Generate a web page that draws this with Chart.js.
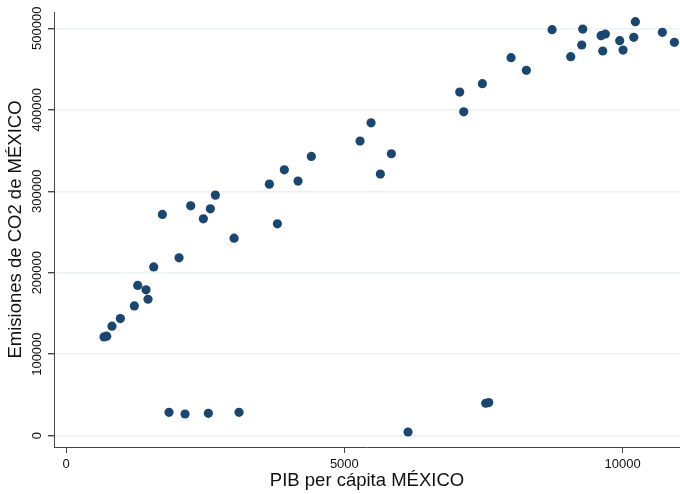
<!DOCTYPE html>
<html lang="es">
<head>
<meta charset="UTF-8">
<title>Emisiones de CO2 vs PIB per cápita - México</title>
<script src="https://cdn.jsdelivr.net/npm/chart.js"></script>
<style>
    html, body { margin: 0; padding: 0; background: #ffffff; overflow: hidden; }
    #caja { width: 680px; height: 494px; }
</style>
</head>
<body>
<div id="caja"><canvas id="grafico"></canvas></div>
<script>
    // datos
    const pibPerCapita = [
        683, 731, 826, 976, 1227, 1288, 1437, 1473, 1575, 2030,
        1850, 2138, 2557, 3108,
        1731, 2240, 2467, 2593, 2683, 3019, 3653, 3797, 3922, 4168, 4408,
        5282, 5480, 5647, 5845, 7073, 7145, 7480, 7995, 8270, 8732,
        9067, 9265, 9283, 9612, 9689, 9642, 9947, 10007, 10199, 10228,
        10713, 10929,
        6144, 7540, 7594
    ];
    const emisionesCO2 = [
        121100, 122000, 134300, 143700, 159200, 184300, 178900, 167400, 207100, 218200,
        28600, 26500, 27400, 28600,
        271500, 282100, 266100, 278400, 295200, 242400, 308700, 260000, 326300, 312400, 342700,
        361500, 384000, 321000, 346000, 421700, 397500, 432000, 463900, 448400, 498300,
        465100, 479500, 499100, 490900, 493000, 472100, 484800, 473300, 488900, 508100,
        495100, 482800,
        4400, 39700, 40500
    ];
    const xTicks = [0, 5000, 10000];
    const yTicks = [0, 100000, 200000, 300000, 400000, 500000];

    const puntos = pibPerCapita.map((x, i) => ({ x: x, y: emisionesCO2[i] }));

    // etiquetas del eje y giradas, como en Stata
    const etiquetasY = {
        id: 'etiquetasY',
        afterDraw(chart) {
            const ctx = chart.ctx;
            const escala = chart.scales.y;
            ctx.save();
            ctx.fillStyle = '#111';
            ctx.font = '13px "Liberation Sans", Arial, sans-serif';
            ctx.textAlign = 'center';
            ctx.textBaseline = 'middle';
            escala.ticks.forEach(t => {
                const py = escala.getPixelForValue(t.value);
                ctx.save();
                ctx.translate(37, py);
                ctx.rotate(-Math.PI / 2);
                ctx.fillText(String(t.value), 0, 0);
                ctx.restore();
            });
            ctx.restore();
        }
    };

    new Chart(document.getElementById('grafico'), {
        type: 'scatter',
        data: {
            datasets: [{
                data: puntos,
                backgroundColor: '#1a476f',
                borderColor: '#1a476f',
                borderWidth: 0,
                pointRadius: 4.6,
                pointHoverRadius: 4.6
            }]
        },
        options: {
            responsive: true,
            maintainAspectRatio: false,
            animation: false,
            layout: { autoPadding: false, padding: { top: 12, right: 0, left: 0, bottom: 0 } },
            plugins: {
                legend: { display: false },
                tooltip: { enabled: false }
            },
            scales: {
                x: {
                    type: 'linear',
                    min: -216,
                    max: 11030,
                    afterBuildTicks: s => { s.ticks = xTicks.map(v => ({ value: v })); },
                    afterFit: s => { s.height = 47; },
                    border: { display: true, color: '#444', width: 1 },
                    grid: { drawOnChartArea: false, drawTicks: true, tickLength: 6, tickColor: '#444' },
                    ticks: {
                        color: '#111',
                        padding: 4,
                        maxRotation: 0,
                        callback: v => String(v),
                        font: { family: '"Liberation Sans", Arial, sans-serif', size: 13 }
                    },
                    title: {
                        display: true,
                        text: 'PIB per cápita MÉXICO',
                        color: '#111',
                        padding: { top: 0, bottom: 2 },
                        font: { family: '"Liberation Sans", Arial, sans-serif', size: 18.5 }
                    }
                },
                y: {
                    type: 'linear',
                    min: -14000,
                    max: 520000,
                    afterBuildTicks: s => { s.ticks = yTicks.map(v => ({ value: v })); },
                    afterFit: s => { s.width = 54; },
                    border: { display: true, color: '#444', width: 1 },
                    grid: { color: '#eaf2f3', lineWidth: 1.4, drawTicks: true, tickLength: 6, tickColor: '#444' },
                    ticks: { display: false },
                    title: {
                        display: true,
                        text: 'Emisiones de CO2 de MÉXICO',
                        color: '#111',
                        padding: { top: 5, bottom: 0 },
                        font: { family: '"Liberation Sans", Arial, sans-serif', size: 18.5 }
                    }
                }
            }
        },
        plugins: [etiquetasY]
    });
</script>
</body>
</html>
